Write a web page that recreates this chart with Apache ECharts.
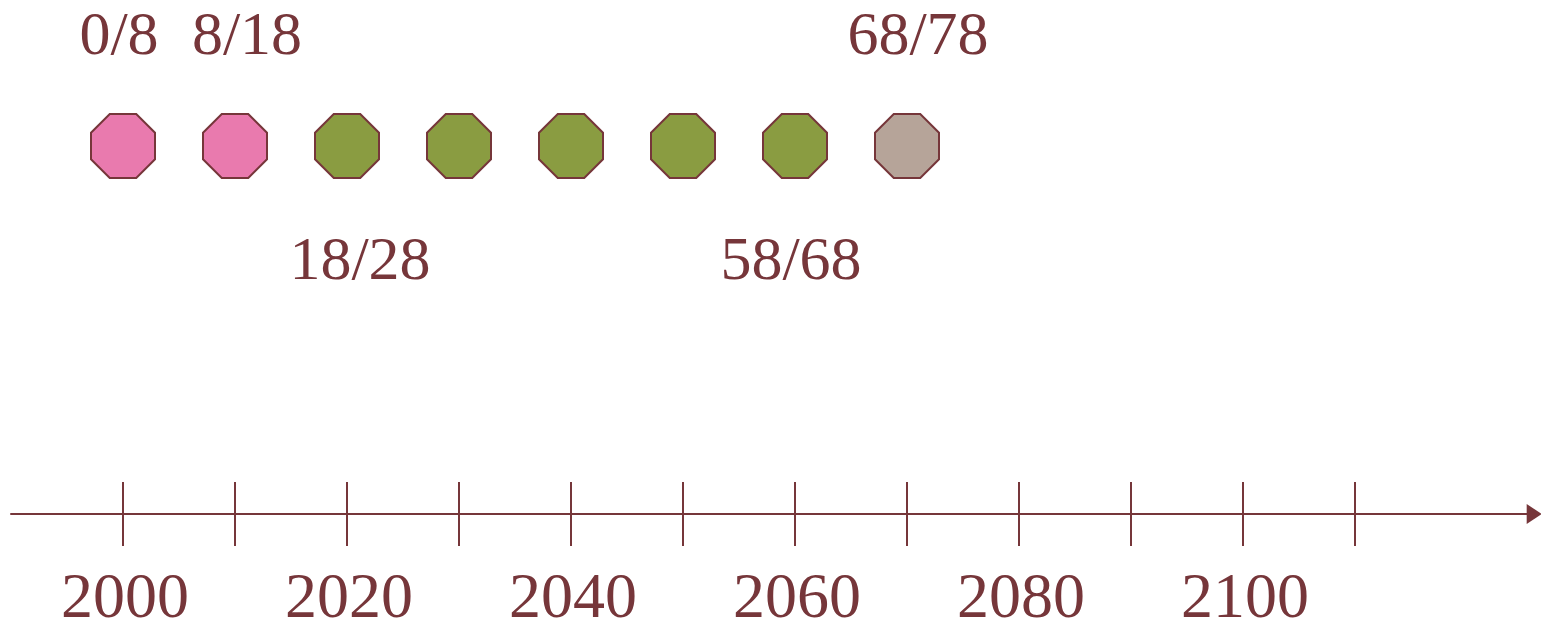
<!DOCTYPE html>
<html>
<head>
<meta charset="utf-8">
<script src="https://cdn.jsdelivr.net/npm/echarts@6/dist/echarts.min.js"></script>
<style>
html,body{margin:0;padding:0;background:#fff;}
#chart{width:1541px;height:622px;}
</style>
</head>
<body>
<div id="chart"></div>
<script>
// ---- data ----
const years = [2000, 2010, 2020, 2030, 2040, 2050, 2060, 2070];
const groups = ['pink', 'pink', 'green', 'green', 'green', 'green', 'green', 'gray'];
const pointLabels = ['0/8', '8/18', '18/28', '', '', '', '58/68', '68/78'];
const labelSide = ['above', 'above', 'below', '', '', '', 'below', 'above'];
const tickValues = [2000, 2010, 2020, 2030, 2040, 2050, 2060, 2070, 2080, 2090, 2100, 2110];
const tickLabels = [2000, 2020, 2040, 2060, 2080, 2100];
const axisMin = 1990;
const axisMax = 2126;

// ---- styles ----
const ink = '#76363A';
const font = 'Liberation Serif';
const fills = { pink: '#E97AAE', green: '#8A9C41', gray: '#B6A499' };
const labelDx = { '0/8': -4, '8/18': 12, '18/28': 13, '58/68': -4, '68/78': 11 };
const octagon = 'path://M-0.4142,-1L0.4142,-1L1,-0.4142L1,0.4142L0.4142,1L-0.4142,1L-1,0.4142L-1,-0.4142Z';

const seriesData = years.map((yr, i) => {
  const txt = pointLabels[i];
  const item = {
    value: [yr, 1],
    itemStyle: { color: fills[groups[i]] }
  };
  if (txt) {
    item.label = {
      show: true,
      formatter: txt,
      position: 'inside',
      offset: [labelDx[txt] || 0, labelSide[i] === 'above' ? -108.5 : 116.5]
    };
  } else {
    item.label = { show: false };
  }
  return item;
});

const chart = echarts.init(document.getElementById('chart'));
chart.setOption({
  animation: false,
  grid: { left: 11, right: 6.8, top: 146, bottom: 108, outerBoundsMode: 'none', containLabel: false },
  xAxis: [
    {
      type: 'value', min: axisMin, max: axisMax, position: 'bottom',
      splitLine: { show: false },
      axisLine: { show: true, lineStyle: { color: ink, width: 2 }, symbol: ['none', 'triangle'], symbolSize: [20, 15] },
      axisTick: { show: true, inside: true, length: 32, lineStyle: { color: ink, width: 2 }, customValues: tickValues },
      axisLabel: { show: true, color: ink, fontFamily: font, fontSize: 64, margin: 54, padding: [0, 0, 0, 4], customValues: tickLabels, formatter: v => String(v) }
    },
    {
      type: 'value', min: axisMin, max: axisMax, position: 'bottom', gridIndex: 0,
      splitLine: { show: false },
      axisLine: { show: false },
      axisTick: { show: true, inside: false, length: 32, lineStyle: { color: ink, width: 2 }, customValues: tickValues },
      axisLabel: { show: false }
    }
  ],
  yAxis: { type: 'value', min: 0, max: 1, show: false },
  series: [{
    type: 'scatter',
    xAxisIndex: 0,
    symbol: octagon,
    symbolSize: 64,
    itemStyle: { borderColor: ink, borderWidth: 2, opacity: 1 },
    label: { color: ink, fontFamily: font, fontSize: 62 },
    emphasis: { disabled: true },
    data: seriesData
  }]
});
</script>
</body>
</html>
